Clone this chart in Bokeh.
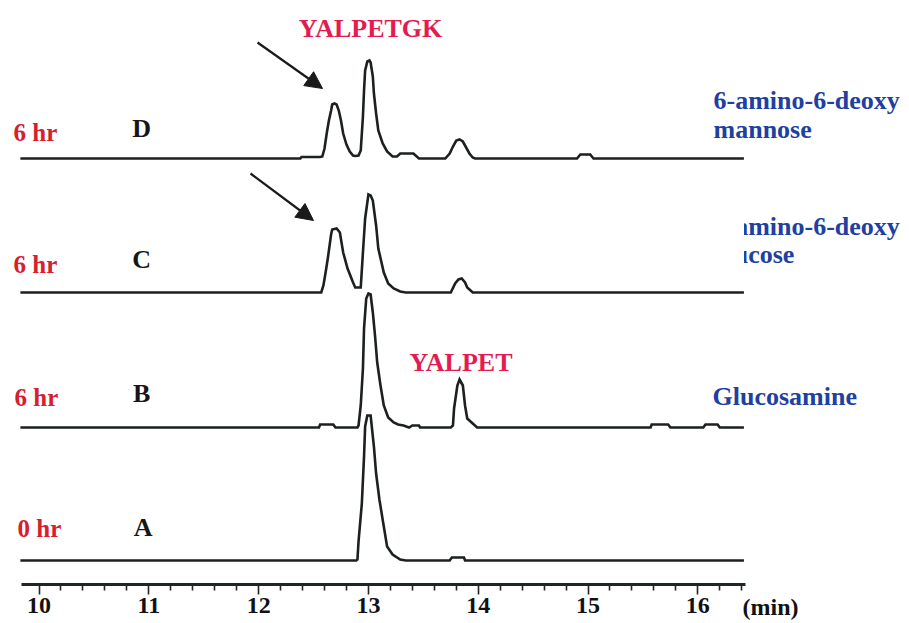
from bokeh.plotting import figure
from bokeh.models import Range1d, LinearAxis, FixedTicker, Arrow, NormalHead, BoxAnnotation
from bokeh.core.properties import value
from bokeh.embed import file_html
from bokeh.resources import INLINE

# ---------------- data (retention time in min, detector signal in arbitrary units) ----------------
time_A = [9.83, 12.89, 12.90, 12.91, 12.94, 12.96, 12.97, 12.99, 13.02, 13.05, 13.07, 13.10, 13.14,
          13.17, 13.22, 13.29, 13.34, 13.74, 13.76, 13.87, 13.88, 16.42]
signal_A = [0, 0, 1, 19, 57, 104, 134, 145, 145, 114, 87, 61, 34,
            14, 6, 1, 0, 0, 3, 3, 0, 0]

time_B = [9.83, 12.55, 12.56, 12.68, 12.70, 12.90, 12.91, 12.93, 12.95, 12.96,
          12.98, 13.00, 13.02, 13.04, 13.06, 13.08, 13.11, 13.14, 13.18, 13.23,
          13.27, 13.32, 13.37, 13.40, 13.46, 13.47, 13.75, 13.77, 13.78, 13.81,
          13.83, 13.86, 13.88, 13.90, 13.95, 13.99, 15.57, 15.58, 15.73, 15.75,
          16.05, 16.07, 16.18, 16.20, 16.42]
signal_B = [0, 0, 3, 3, 0, 0, 2, 22, 59, 99,
            129, 134, 133, 115, 92, 65, 42, 22, 10, 5,
            3, 2, 0, 2, 2, 0, 0, 2, 19, 42,
            48, 42, 22, 9, 4, 0, 0, 3, 3, 0,
            0, 3, 3, 0, 0]

time_C = [9.83, 12.57, 12.59, 12.61, 12.63, 12.66, 12.67, 12.71, 12.74, 12.77,
          12.81, 12.86, 12.88, 12.93, 12.95, 12.97, 13.00, 13.02, 13.04, 13.07,
          13.09, 13.14, 13.18, 13.23, 13.29, 13.34, 13.75, 13.79, 13.82, 13.85,
          13.88, 13.90, 13.95, 16.42]
signal_C = [0, 0, 7, 20, 34, 58, 63, 64, 60, 40,
            24, 10, 5, 5, 40, 74, 98, 97, 92, 67,
            44, 20, 9, 4, 1, 0, 0, 9, 13, 14,
            10, 5, 0, 0]

time_D = [9.83, 12.38, 12.39, 12.56, 12.58, 12.60, 12.62, 12.64, 12.66, 12.67,
          12.69, 12.71, 12.73, 12.75, 12.77, 12.80, 12.83, 12.86, 12.88, 12.91,
          12.93, 12.95, 12.96, 12.97, 12.99, 13.01, 13.02, 13.04, 13.05, 13.07,
          13.09, 13.13, 13.17, 13.22, 13.26, 13.29, 13.41, 13.46, 13.70, 13.74,
          13.77, 13.80, 13.83, 13.86, 13.89, 13.92, 13.95, 13.97, 14.90, 14.93,
          15.02, 15.05, 16.42]
signal_D = [0, 0, 1.5, 1.5, 2, 10, 25, 38, 48, 54,
            55, 54, 48, 38, 25, 14, 7, 3, 2.5, 3,
            8, 42, 68, 88, 97, 98, 96, 82, 65, 45,
            28, 15, 7, 2, 2, 5, 5, 0, 0, 5,
            12, 18, 19, 17, 11, 5, 1, 0, 0, 4,
            4, 0, 0]

trace_names = ["A", "B", "C", "D"]
incubation = ["0 hr", "6 hr", "6 hr", "6 hr"]
sugar_line1 = ["Glucosamine", "6-amino-6-deoxy", "6-amino-6-deoxy"]   # rows B, C, D
sugar_line2 = ["glucose", "mannose"]                                  # rows C, D
peptide_labels = ["YALPETGK", "YALPET"]
axis_unit = "(min)"

major_ticks = [10, 11, 12, 13, 14, 15, 16]
minor_ticks = [10.2, 10.4, 10.6, 10.8, 11.2, 11.4, 11.6, 11.8, 12.2, 12.4, 12.6, 12.8,
               13.2, 13.4, 13.6, 13.8, 14.2, 14.4, 14.6, 14.8, 15.2, 15.4, 15.6, 15.8,
               16.2, 16.4]

# ---------------- layout (vertical stacking of the traces, label anchors) ----------------
baseline = [24, 157, 292, 426]          # vertical offset of each trace (A, B, C, D)
hr_x = [9.804, 9.777, 9.768, 9.768]
hr_y = [56, 187, 320, 452]
letter_x = [10.947, 10.934, 10.934, 10.934]
letter_y = [57, 191, 325, 456]
sugar_x1 = [16.134, 16.143, 16.143]
sugar_y1 = [188, 358, 484]
sugar_x2 = [16.143, 16.143]
sugar_y2 = [330, 455]
peptide_x = [13.019, 13.843]
peptide_y = [556, 222]

TRACE = "#1c2020"
RED = "#d6202c"
PINK = "#e31b4f"
BLUE = "#1e40a0"
SERIF = "Liberation Serif"

p = figure(width=909, height=623, output_backend="svg", toolbar_location=None,
           x_range=Range1d(9.649, 17.928), y_range=Range1d(-39, 584),
           x_axis_location=None, y_axis_location=None,
           min_border_left=0, min_border_right=0, min_border_top=0, min_border_bottom=0,
           outline_line_color=None, background_fill_color="white", border_fill_color="white")
p.xgrid.visible = False
p.ygrid.visible = False

xaxis = LinearAxis(bounds=(9.84, 16.43), fixed_location=0,
                   ticker=FixedTicker(ticks=major_ticks, minor_ticks=minor_ticks))
xaxis.axis_line_width = 3
xaxis.axis_line_color = "#1f2626"
xaxis.major_tick_in = 0
xaxis.major_tick_out = 10
xaxis.minor_tick_in = 0
xaxis.minor_tick_out = 6
xaxis.major_tick_line_width = 1.6
xaxis.minor_tick_line_width = 1.6
xaxis.major_tick_line_color = "#1f2626"
xaxis.minor_tick_line_color = "#1f2626"
xaxis.major_label_text_font = SERIF
xaxis.major_label_text_font_style = "bold"
xaxis.major_label_text_font_size = "24px"
xaxis.major_label_text_color = "#111111"
xaxis.major_label_standoff = 3
p.add_layout(xaxis, "below")

times = [time_A, time_B, time_C, time_D]
signals = [signal_A, signal_B, signal_C, signal_D]
for t, s, off in zip(times, signals, baseline):
    p.line(x=t, y=[v + off for v in s], line_color=TRACE, line_width=2.6, line_join="miter")

font = value(SERIF)
p.text(x=hr_x, y=hr_y, text=incubation, text_font=font, text_font_style="bold",
       text_font_size="25px", text_color=RED, text_align="left", text_baseline="alphabetic")
p.text(x=letter_x, y=letter_y, text=trace_names, text_font=font, text_font_style="bold",
       text_font_size="26px", text_color="#161616", text_align="center", text_baseline="alphabetic")
p.text(x=sugar_x1, y=sugar_y1, text=sugar_line1, text_font=font, text_font_style="bold",
       text_font_size="26px", text_color=BLUE, text_align="left", text_baseline="alphabetic")
p.text(x=sugar_x2, y=sugar_y2, text=sugar_line2, text_font=font, text_font_style="bold",
       text_font_size="26px", text_color=BLUE, text_align="left", text_baseline="alphabetic")
p.text(x=peptide_x, y=peptide_y, text=peptide_labels, text_font=font, text_font_style="bold",
       text_font_size="26px", text_color=PINK, text_align="center", text_baseline="alphabetic")
p.text(x=[16.407], y=[-22], text=[axis_unit], text_font=font, text_font_style="bold",
       text_font_size="24px", text_color="#111111", text_align="left", text_baseline="alphabetic")

# the left part of the C-row sugar name is hidden in the original figure
p.add_layout(BoxAnnotation(left=16.07, right=16.421, bottom=298, top=388,
                           fill_color="white", fill_alpha=1.0, line_color=None))

for xs, ys, xe, ye in [(11.990, 542, 12.582, 496), (11.926, 411, 12.500, 364)]:
    p.add_layout(Arrow(end=NormalHead(size=17, fill_color="#1a1a1a", line_color="#1a1a1a", line_width=1),
                       x_start=xs, y_start=ys, x_end=xe, y_end=ye,
                       line_color="#1a1a1a", line_width=2.2))

open("out.html", "w").write(file_html(p, INLINE))
